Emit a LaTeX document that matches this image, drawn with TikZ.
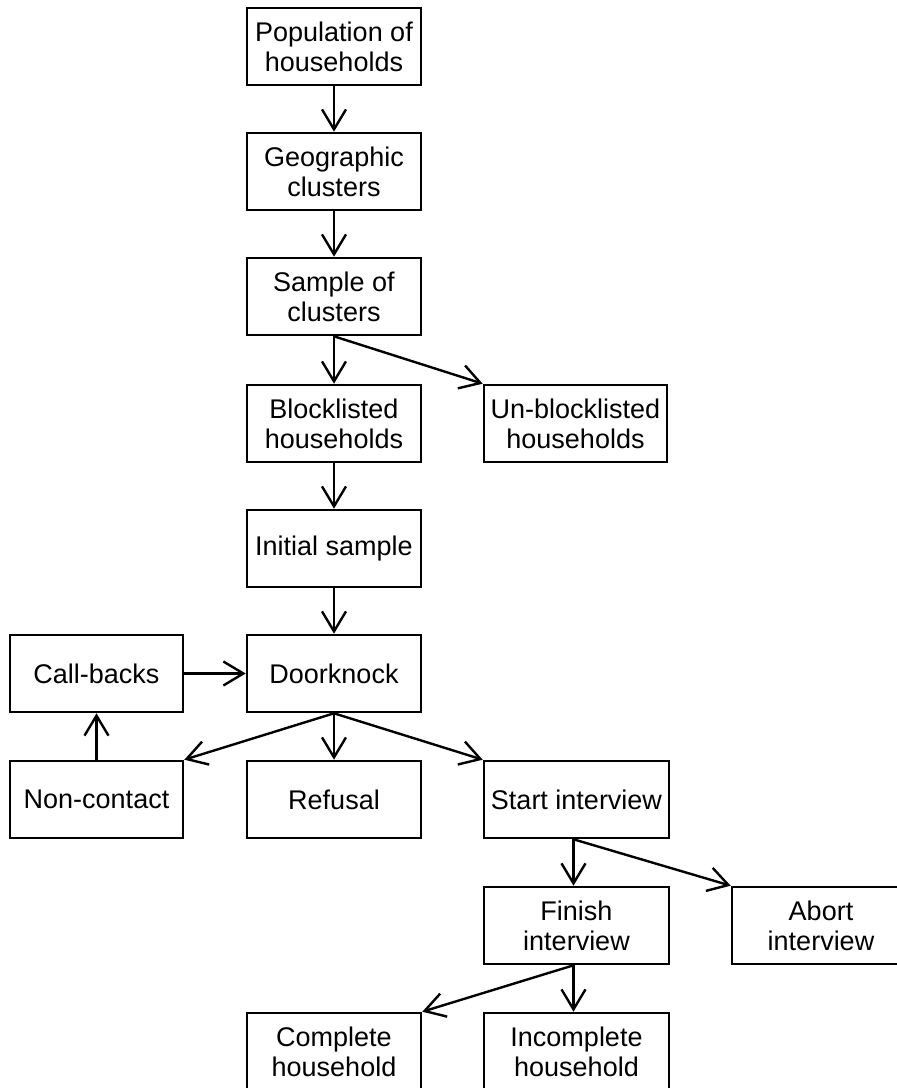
\documentclass[tikz,border=0pt]{standalone}
\usepackage{fontspec}
\setmainfont{Liberation Sans}
\usetikzlibrary{arrows.meta}
\begin{document}
\begin{tikzpicture}[x=1pt,y=-1pt,
  box/.style={draw, line width=2.6pt, inner sep=0pt, align=center, font=\fontsize{27}{30}\selectfont},
  mainbox/.style={box, minimum width=174pt, minimum height=77pt},
  widebox/.style={box, minimum width=185pt, minimum height=77pt},
  conn/.style={line width=2.4pt, -{Straight Barb[length=20pt,width=24pt]}}]
\clip (0,0) rectangle (897,1088);
\useasboundingbox (0,0) rectangle (897,1088);
\node[mainbox] (pop) at (334,46.5) {Population of\\households};
\node[mainbox] (geo) at (334,171.5) {Geographic\\clusters};
\node[mainbox] (samp) at (334,296.5) {Sample of\\clusters};
\node[mainbox] (block) at (334,423.5) {Blocklisted\\households};
\node[box, minimum width=183pt, minimum height=77pt] (unblock) at (575.5,423.5) {Un-blocklisted\\households};
\node[mainbox] (init) at (334,548.5) {Initial sample};
\node[mainbox] (door) at (334,673.5) {Doorknock};
\node[box, minimum width=173pt, minimum height=77pt] (call) at (96.5,673.5) {Call-backs};
\node[box, minimum width=173pt, minimum height=77pt] (non) at (96.5,799.5) {Non-contact};
\node[mainbox] (ref) at (334,799.5) {Refusal};
\node[widebox] (start) at (576.5,799.5) {Start interview};
\node[widebox] (finish) at (576.5,925.5) {Finish\\interview};
\node[box, minimum width=178pt, minimum height=77pt] (abort) at (821,925.5) {Abort\\interview};
\node[mainbox] (comp) at (334,1051.5) {Complete\\household};
\node[widebox] (incomp) at (576.5,1051.5) {Incomplete\\household};

\draw[conn] (pop.south) -- (geo.north);
\draw[conn] (geo.south) -- (samp.north);
\draw[conn] (samp.south) -- (block.north);
\draw[conn] (samp.south) -- (unblock.north west);
\draw[conn] (block.south) -- (init.north);
\draw[conn] (init.south) -- (door.north);
\draw[conn] (call.east) -- (door.west);
\draw[conn] (non.north) -- (call.south);
\draw[conn] (door.south) -- (non.north east);
\draw[conn] (door.south) -- (ref.north);
\draw[conn] (door.south) -- (start.north west);
\draw[conn] ([xshift=-3pt]start.south) -- ([xshift=-3pt]finish.north);
\draw[conn] ([xshift=-3pt]start.south) -- (abort.north west);
\draw[conn] ([xshift=-3pt]finish.south) -- ([xshift=-3pt]incomp.north);
\draw[conn] ([xshift=-3pt]finish.south) -- (comp.north east);
\end{tikzpicture}
\end{document}
